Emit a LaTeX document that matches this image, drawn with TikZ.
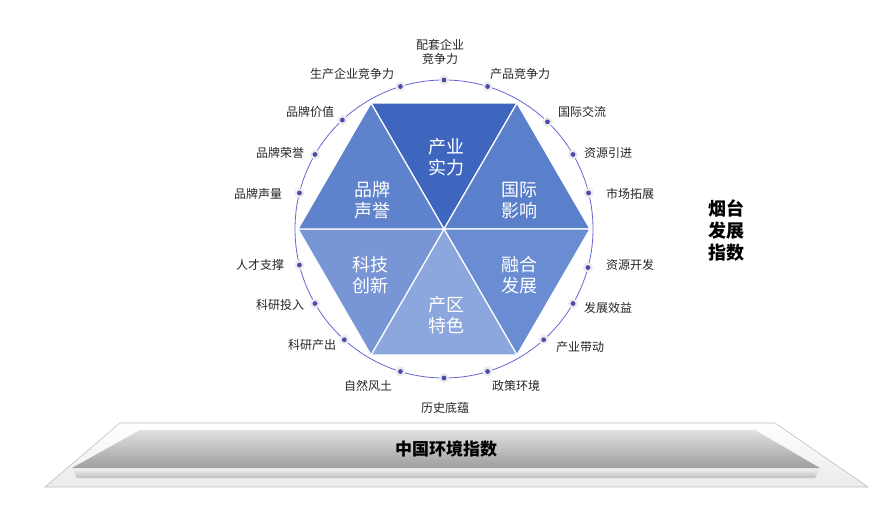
\documentclass[tikz,border=0pt]{standalone}
\usepackage{fontspec}
\setmainfont{Noto Sans CJK SC}
\begin{document}
\begin{tikzpicture}[x=1pt,y=-1pt,
  lab/.style={font=\fontsize{12}{14}\selectfont,text=black!85,align=center,inner sep=0pt},
  sec/.style={font=\fontsize{18}{21}\selectfont,text=white,align=center,inner sep=0pt},
  wedge/.style={draw=white,line width=1.2pt,line join=round}]
\useasboundingbox (0,0) rectangle (883,514);
\fill[white] (0,0) rectangle (883,514);
\coordinate (C) at (444,229);
\draw[line width=0.8pt, draw=black!30!blue!60!white] (C) circle[radius=149];
\coordinate (V0) at (590,229);
\coordinate (V1) at (517,103);
\coordinate (V2) at (371,103);
\coordinate (V3) at (298,229);
\coordinate (V4) at (371,355);
\coordinate (V5) at (517,355);
\definecolor{s1}{HTML}{3F66BF}
\definecolor{s2}{HTML}{5A7FCB}
\definecolor{s3}{HTML}{6A8CD2}
\definecolor{s4}{HTML}{8CA7DD}
\definecolor{s5}{HTML}{7895D5}
\definecolor{s6}{HTML}{5E82CC}
\filldraw[wedge,fill=s1] (C)--(V1)--(V2)--cycle;
\filldraw[wedge,fill=s2] (C)--(V0)--(V1)--cycle;
\filldraw[wedge,fill=s3] (C)--(V5)--(V0)--cycle;
\filldraw[wedge,fill=s4] (C)--(V4)--(V5)--cycle;
\filldraw[wedge,fill=s5] (C)--(V3)--(V4)--cycle;
\filldraw[wedge,fill=s6] (C)--(V2)--(V3)--cycle;
\node[sec] (a) at (446,157) {产业\\实力};
\node[sec] (b) at (372,200) {品牌\\声誉};
\node[sec] (c) at (519,200) {国际\\影响};
\node[sec] (d) at (370,275) {科技\\创新};
\node[sec] (e) at (519,275) {融合\\发展};
\node[sec] (f) at (446,315) {产区\\特色};
\foreach \ang in {90,73,107,132,48,30,150,15,166,-14,-166,-30,-150,-46,-133,-73,-107,-90}{
  \fill[black!8] (C) ++(\ang:149) circle[radius=5];
  \fill[blue!55!black!70!white] (C) ++(\ang:149) circle[radius=2.4];
}
\node[lab] (l1) at (440,52) {配套企业\\竞争力};
\node[lab] (l2) at (352,74) {生产企业竞争力};
\node[lab] (l3) at (520,74) {产品竞争力};
\node[lab] (l4) at (310,112) {品牌价值};
\node[lab] (l5) at (582,112) {国际交流};
\node[lab] (l6) at (280,153) {品牌荣誉};
\node[lab] (l7) at (608,153) {资源引进};
\node[lab] (l8) at (258,194) {品牌声量};
\node[lab] (l9) at (630,194) {市场拓展};
\node[lab] (l10) at (260,265) {人才支撑};
\node[lab] (l11) at (630,265) {资源开发};
\node[lab] (l12) at (280,305) {科研投入};
\node[lab] (l13) at (608,308) {发展效益};
\node[lab] (l14) at (312,345) {科研产出};
\node[lab] (l15) at (580,347) {产业带动};
\node[lab] (l16) at (368,386) {自然风土};
\node[lab] (l17) at (516,386) {政策环境};
\node[lab] (l18) at (445,408) {历史底蕴};
\node[font=\bfseries\fontsize{18}{22}\selectfont,align=center,inner sep=0pt] (t) at (726,230) {烟台\\发展\\指数};
\shade[top color=white,bottom color=black!8,draw=black!25,line width=0.6pt] (120,423)--(775,423)--(868,487)--(45,487)--cycle;
\shade[top color=black!5,bottom color=black!25] (72,468)--(820,468)--(815,478)--(77,478)--cycle;
\shade[top color=black!12,bottom color=black!38] (140,430)--(755,430)--(820,468)--(72,468)--cycle;
\node[font=\bfseries\fontsize{17}{20}\selectfont,inner sep=0pt] (p) at (446,449) {中国环境指数};
\end{tikzpicture}
\end{document}
